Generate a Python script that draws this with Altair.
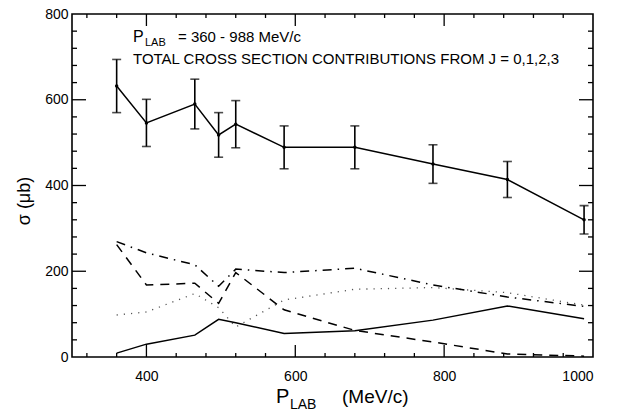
import altair as alt
import pandas as pd

# ---------------- data ----------------
p_lab = [360, 400, 465, 497, 520, 585, 680, 785, 885, 988]
sigma_total = [632, 546, 590, 518, 543, 489, 489, 450, 414, 320]
sigma_err = [62, 55, 58, 52, 55, 50, 50, 45, 42, 33]

curve_solid = [9, 30, 51, 88, 80, 55, 61, 86, 119, 89]
curve_dash = [262, 168, 172, 125, 197, 110, 62, 35, 7, 2]
curve_dashdot = [269, 243, 215, 165, 205, 197, 207, 168, 140, 118]
curve_dot = [98, 105, 148, 115, 70, 133, 158, 162, 150, 121]

x_labels = [400, 600, 800, 1000]
y_labels = [0, 200, 400, 600, 800]
x_major = [400, 600, 800]
x_minor = [320, 360, 440, 480, 520, 560, 640, 680, 720, 760, 840, 880, 920, 960]
y_major = [200, 400, 600]
y_minor = [40, 80, 120, 160, 240, 280, 320, 360, 440, 480, 520, 560, 640, 680, 720, 760]

W, H = 521, 343

tot = pd.DataFrame({"x": p_lab, "y": sigma_total, "e": sigma_err})
tot["lo"] = tot["y"] - tot["e"]
tot["hi"] = tot["y"] + tot["e"]

xs = alt.Scale(domain=[300, 1000], nice=False, zero=False)
ys = alt.Scale(domain=[0, 800], nice=False)

X = alt.X("x:Q", scale=xs,
          axis=alt.Axis(values=x_labels, ticks=False, domain=False, grid=False,
                        labelPadding=12, labelFontSize=14, labelFont="Liberation Sans",
                        labelColor="black", title=None, format="d"))
Y = alt.Y("y:Q", scale=ys,
          axis=alt.Axis(values=y_labels, ticks=False, domain=False, grid=False,
                        labelPadding=4, labelFontSize=14, labelFont="Liberation Sans",
                        labelColor="black", title=None, format="d"))

base = alt.Chart(tot)
total_line = base.mark_line(color="black", strokeWidth=1.5).encode(x=X, y=Y)
total_pts = base.mark_point(filled=True, color="black", size=12, opacity=1).encode(
    x=alt.X("x:Q", scale=xs), y=alt.Y("y:Q", scale=ys))
err_rule = base.mark_rule(color="black", strokeWidth=1.6).encode(
    x=alt.X("x:Q", scale=xs), y=alt.Y("lo:Q", scale=ys), y2="hi:Q")
cap_lo = base.mark_tick(color="black", orient="horizontal", size=9, thickness=1.6).encode(
    x=alt.X("x:Q", scale=xs), y=alt.Y("lo:Q", scale=ys))
cap_hi = base.mark_tick(color="black", orient="horizontal", size=9, thickness=1.6).encode(
    x=alt.X("x:Q", scale=xs), y=alt.Y("hi:Q", scale=ys))


def curve(vals, dash, width=1.5, color="black"):
    df = pd.DataFrame({"x": p_lab, "y": vals})
    kw = {"color": color, "strokeWidth": width}
    if dash:
        kw["strokeDash"] = dash
    return alt.Chart(df).mark_line(**kw).encode(
        x=alt.X("x:Q", scale=xs), y=alt.Y("y:Q", scale=ys))


c_solid = curve(curve_solid, None)
c_dash = curve(curve_dash, [9, 7])
c_dashdot = curve(curve_dashdot, [9, 6, 1.5, 6])
c_dot = curve(curve_dot, [1.2, 6], width=1.3, color="#555")


def xticks(vals, length, top):
    df = pd.DataFrame({"x": vals})
    if top:
        enc = dict(y=alt.value(0), y2=alt.value(length))
    else:
        enc = dict(y=alt.value(H), y2=alt.value(H - length))
    return alt.Chart(df).mark_rule(color="black", strokeWidth=1.3).encode(
        x=alt.X("x:Q", scale=xs), **enc)


def yticks(vals, length, right):
    df = pd.DataFrame({"y": vals})
    if right:
        enc = dict(x=alt.value(W), x2=alt.value(W - length))
    else:
        enc = dict(x=alt.value(0), x2=alt.value(length))
    return alt.Chart(df).mark_rule(color="black", strokeWidth=1.3).encode(
        y=alt.Y("y:Q", scale=ys), **enc)


ticks = [
    xticks(x_major, 12, False), xticks(x_minor, 4, False),
    xticks(x_major, 12, True), xticks(x_minor, 4, True),
    yticks(y_major, 14, False), yticks(y_minor, 5, False),
    yticks(y_major, 14, True), yticks(y_minor, 5, True),
]


def txt(s, x, y, size, **kw):
    return alt.Chart(pd.DataFrame({"t": [s]})).mark_text(
        align=kw.pop("align", "left"), baseline=kw.pop("baseline", "alphabetic"),
        fontSize=size, font=kw.pop("font", "Liberation Sans"), color="black", **kw
    ).encode(text="t:N", x=alt.value(x), y=alt.value(y))


texts = [
    txt("P", 61, 28, 16),
    txt("LAB", 73, 32, 11),
    txt("= 360 - 988 MeV/c", 106, 28, 15),
    txt("TOTAL CROSS SECTION CONTRIBUTIONS FROM J = 0,1,2,3", 61, 50, 15),
    txt("P", 204, 389, 20),
    txt("LAB", 218, 395, 14),
    txt("(MeV/c)", 270, 389, 19),
    txt("σ  (μb)", -47, 187, 18, angle=270, align="center", baseline="middle"),
]

chart = alt.layer(
    c_dot, c_dashdot, c_dash, c_solid,
    total_line, err_rule, cap_lo, cap_hi, total_pts,
    *ticks, *texts
).properties(
    width=W, height=H,
    autosize=alt.AutoSizeParams(type="none"),
    padding={"left": 72, "top": 14, "right": 40, "bottom": 56},
    background="white",
).configure_view(stroke="black", strokeWidth=1.6)

chart.save("out.html", embed_options={"renderer": "svg", "actions": False})
